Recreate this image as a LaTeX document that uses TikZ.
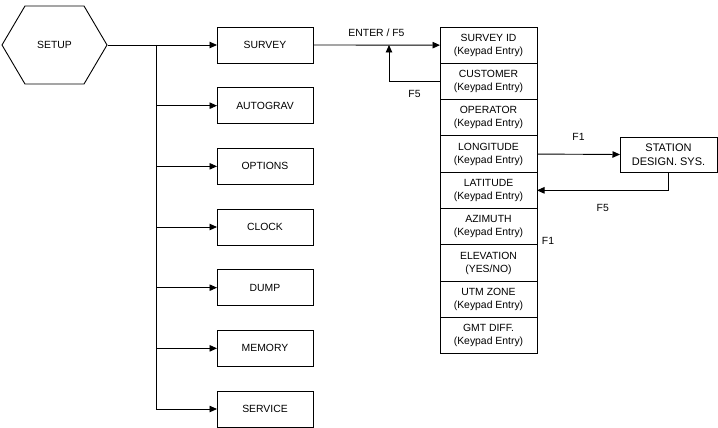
\documentclass[tikz,border=0pt]{standalone}
\usepackage{fontspec}
\setmainfont{Liberation Sans}
\usetikzlibrary{shapes.symbols, arrows.meta, positioning}

\begin{document}
\begin{tikzpicture}[
    x=1pt, y=-1pt,
    line width=0.9pt,
    font=\fontsize{10.4}{13}\selectfont,
    setupnode/.style={signal, signal to=west and east, signal pointer angle=119, minimum width=105pt, minimum height=78pt, inner sep=0pt, draw},
    menu/.style={rectangle, minimum width=96pt, minimum height=36pt, inner sep=0pt, outer sep=0pt, text centered, draw},
    entry/.style={rectangle, minimum width=97pt, minimum height=36.3pt, inner sep=0pt, outer sep=0pt, align=center, draw},
    arrow/.style={-{Triangle[length=7.5pt,width=6.5pt]}}
]
\useasboundingbox (0,0) rectangle (718,428);

% main menu
\node (setup) [setupnode] at (54.5,45) {SETUP};
\node (survey) [menu] at (265,45) {SURVEY};
\node (autograv) [menu, below=24.67pt of survey] {AUTOGRAV};
\node (options) [menu, below=24.67pt of autograv] {OPTIONS};
\node (clock) [menu, below=24.67pt of options] {CLOCK};
\node (dump) [menu, below=24.67pt of clock] {DUMP};
\node (memory) [menu, below=24.67pt of dump] {MEMORY};
\node (service) [menu, below=24.67pt of memory] {SERVICE};

% survey entries
\node (surveyid) [entry] at (488.5,45.15) {SURVEY ID\\(Keypad Entry)};
\node (customer) [entry, below=0pt of surveyid] {CUSTOMER\\(Keypad Entry)};
\node (operator) [entry, below=0pt of customer] {OPERATOR\\(Keypad Entry)};
\node (longitude) [entry, below=0pt of operator] {LONGITUDE\\(Keypad Entry)};
\node (latitude) [entry, below=0pt of longitude] {LATITUDE\\(Keypad Entry)};
\node (azimuth) [entry, below=0pt of latitude] {AZIMUTH\\(Keypad Entry)};
\node (elevation) [entry, below=0pt of azimuth] {ELEVATION\\(YES/NO)};
\node (utmzone) [entry, below=0pt of elevation] {UTM ZONE\\(Keypad Entry)};
\node (gmtdiff) [entry, below=0pt of utmzone] {GMT DIFF.\\(Keypad Entry)};

\node (station) [entry, minimum height=35pt, font=\fontsize{11}{13.5}\selectfont] at (668.5,154.5) {STATION\\DESIGN. SYS.};
\node (azf1) at (548,241) {F1};

% connectors
\coordinate (trunk) at (156,45);
\draw [arrow] (setup.east) -- (survey.west);
\draw (trunk) -- (trunk |- service);
\foreach \m in {autograv, options, clock, dump, memory, service}
    \draw [arrow] (trunk |- \m) -- (\m.west);

\draw [arrow] (survey.east) -- node[above=5pt] {ENTER / F5} (surveyid.west);
\coordinate (back) at (389,45);
\draw [arrow] (customer.west) -| node[pos=0.25, below=5pt] {F5} (back);

\draw [arrow] (longitude.east) -- node[above=10pt] {F1} (station.west);
\draw [arrow] (station.south) |- node[pos=0.75, below=10pt] {F5} (latitude.east);

\end{tikzpicture}
\end{document}
